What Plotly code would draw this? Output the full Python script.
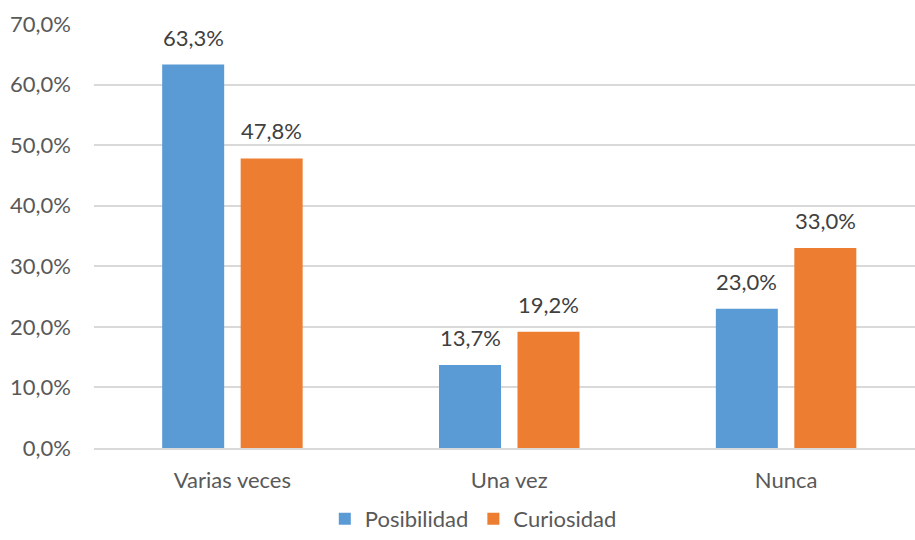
import plotly.graph_objects as go

categories = ["Varias veces", "Una vez", "Nunca"]
posibilidad = [63.3, 13.7, 23.0]
curiosidad = [47.8, 19.2, 33.0]
series_names = ["Posibilidad", "Curiosidad"]
y_ticks = [0, 10, 20, 30, 40, 50, 60, 70]

FONT = "Lato, Open Sans, sans-serif"
TXT = "#595959"
FS = 22

fig = go.Figure()
series = [(series_names[0], posibilidad, "#5B9BD5", -39.25),
          (series_names[1], curiosidad, "#ED7D31", 39.25)]
for name, vals, col, dx in series:
    fig.add_trace(go.Bar(
        x=categories, y=vals, name=name, marker_color=col,
        marker_line_width=0,
    ))
    for c, v in zip(categories, vals):
        fig.add_annotation(
            x=c, y=v, xref="x", yref="y", text=f"{v:.1f}%".replace(".", ","),
            showarrow=False, xshift=dx, yanchor="bottom", yshift=12,
            font=dict(family=FONT, size=FS, color="#404040"),
        )

W, H = 915, 540
left, right_end = 93.5, 915
top, bottom = 24, 448

fig.update_layout(
    width=W, height=H,
    margin=dict(l=left, r=W - right_end, t=top, b=H - bottom, autoexpand=False),
    paper_bgcolor="white", plot_bgcolor="white",
    separators=",.",
    barmode="group", bargap=0.433, bargroupgap=0.21,
    font=dict(family=FONT, size=FS, color=TXT),
    legend=dict(orientation="h", x=0.462, xanchor="center",
                y=-(H - bottom) / (bottom - top), yanchor="bottom",
                font=dict(family=FONT, size=FS, color=TXT), itemwidth=30,
                traceorder="normal"),
)
fig.update_xaxes(
    range=[-0.5, -0.5 + (right_end - left) / 277.0],
    showgrid=False, showline=True, linecolor="#D9D9D9", linewidth=1.5,
    ticks="", ticklabelstandoff=12, automargin=False,
    tickfont=dict(family=FONT, size=FS, color=TXT),
)
fig.update_yaxes(
    range=[0, 70], tickvals=y_ticks,
    ticktext=[f"{t:.1f}%".replace(".", ",") for t in y_ticks],
    showgrid=True, gridcolor="#D9D9D9", gridwidth=1.5,
    zeroline=False, showline=False, ticks="", ticklabelstandoff=22,
    automargin=False,
    tickfont=dict(family=FONT, size=FS, color=TXT),
)
fig.write_html("out.html", config={"displayModeBar": False},
               post_script="document.body.style.margin='0';document.body.style.overflow='hidden';")
